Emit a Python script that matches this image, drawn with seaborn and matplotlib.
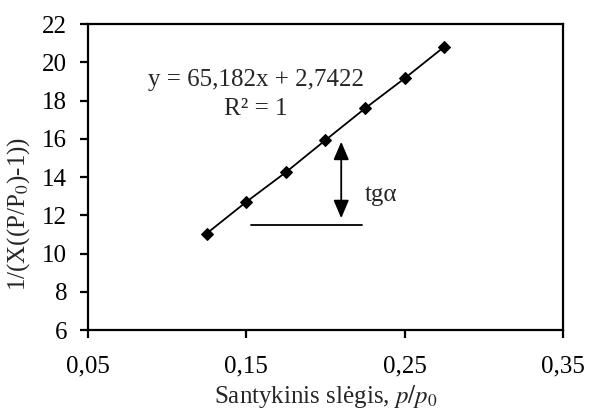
import numpy as np
import pandas as pd
import matplotlib
matplotlib.use("Agg")
import matplotlib.pyplot as plt
import seaborn as sns

# Relative pressure and BET transform values
rel_pressure = [0.125, 0.15, 0.175, 0.2, 0.225, 0.25, 0.275]
bet_values = [11.05, 12.70, 14.25, 15.93, 17.59, 19.16, 20.81]

x_ticks = [0.05, 0.15, 0.25, 0.35]
x_tick_labels = ["0,05", "0,15", "0,25", "0,35"]
y_ticks = [6, 8, 10, 12, 14, 16, 18, 20, 22]
y_tick_labels = ["6", "8", "10", "12", "14", "16", "18", "20", "22"]

equation_text = "y = 65,182x + 2,7422"
r2_text = "R² = 1"
slope_label = "tgα"

# Slope illustration: vertical double arrow and horizontal reference line
arrow_x = 0.210
arrow_top = 15.85
arrow_bottom = 11.85
base_y = 11.5
base_x0, base_x1 = 0.153, 0.223

sns.set_style("ticks")
plt.rcParams["font.family"] = ["Liberation Serif", "DejaVu Serif"]
plt.rcParams["mathtext.fontset"] = "stix"
fs = 18

df = pd.DataFrame({"p": rel_pressure, "v": bet_values})

fig = plt.figure(figsize=(5.9, 4.09), dpi=100)
ax = fig.add_axes([0.149, 0.193, 0.805, 0.748])

sns.lineplot(data=df, x="p", y="v", ax=ax, color="black", linewidth=1.3,
             marker="D", markersize=6.5, markeredgecolor="black",
             markerfacecolor="black", legend=False)

ax.set_xlim(0.05, 0.35)
ax.set_ylim(6, 22)
ax.set_xticks(x_ticks)
ax.set_xticklabels(x_tick_labels)
ax.set_yticks(y_ticks)
ax.set_yticklabels(y_tick_labels)

for s in ax.spines.values():
    s.set_visible(True)
    s.set_linewidth(1.6)
    s.set_color("black")
ax.tick_params(axis="both", direction="out", length=6, width=1.6,
               labelsize=fs, colors="black")
ax.tick_params(axis="y", pad=9)
ax.tick_params(axis="x", pad=12)

ax.set_xlabel("Santykinis slėgis, $p/p_\\mathit{0}$", fontsize=fs, labelpad=4)
ax.set_ylabel("1/(X((P/P$_\\mathrm{0}$)-1))", fontsize=fs)
ax.yaxis.set_label_coords(-0.118, 0.379)

ax.text(0.156, 19.07, equation_text, fontsize=fs, ha="center", va="center")
ax.text(0.156, 17.55, r2_text, fontsize=fs, ha="center", va="center")

ax.annotate("", xy=(arrow_x, arrow_bottom), xytext=(arrow_x, arrow_top),
            arrowprops=dict(arrowstyle="<|-|>,head_length=1.1,head_width=0.47",
                            color="black", lw=1.3, shrinkA=0, shrinkB=0))
ax.plot([base_x0, base_x1], [base_y, base_y], color="black", lw=1.3)
ax.text(0.225, 13.05, slope_label, fontsize=fs, ha="left", va="center")

fig.savefig("out.png", dpi=100)
